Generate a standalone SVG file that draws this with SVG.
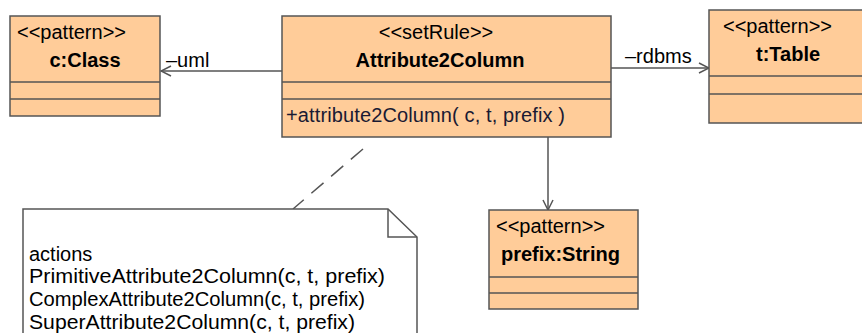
<svg xmlns="http://www.w3.org/2000/svg" width="862" height="333" viewBox="0 0 862 333">
<defs>
<style>
.box{fill:#FFCC99;stroke:#555;stroke-width:1.5}
.sep{stroke:#555;stroke-width:1.5}
.t{font-family:"Liberation Sans",Arial,sans-serif;font-size:20px;fill:#000}
.b{font-weight:bold}
.edge{stroke:#555;stroke-width:1.5;fill:none}
</style>
<marker id="open" viewBox="0 0 12 12" refX="11" refY="6" markerWidth="12" markerHeight="12" markerUnits="userSpaceOnUse" orient="auto">
<path d="M1,1 L11,6 L1,11" fill="none" stroke="#555" stroke-width="1.5"/>
</marker>
</defs>
<rect width="862" height="333" fill="#fff"/>
<g id="connectors">
<line class="edge" x1="282" y1="71" x2="161" y2="71" marker-end="url(#open)"/>
<text class="t" x="166" y="67">–uml</text>
<line class="edge" x1="611" y1="68" x2="709" y2="68" marker-end="url(#open)"/>
<text class="t" x="625" y="63">–rdbms</text>
<line class="edge" x1="548" y1="137" x2="548" y2="210" marker-end="url(#open)"/>
<line class="edge" x1="363" y1="149" x2="293" y2="209" stroke-dasharray="16,10"/>
</g>
<g id="cClass">
<rect class="box" x="10" y="16" width="150" height="100"/>
<line class="sep" x1="10" y1="82" x2="160" y2="82"/>
<line class="sep" x1="10" y1="99" x2="160" y2="99"/>
<text class="t" x="17" y="39">&lt;&lt;pattern&gt;&gt;</text>
<text class="t b" x="85" y="67" text-anchor="middle">c:Class</text>
</g>
<g id="attribute2Column">
<rect class="box" x="282" y="16" width="329" height="121"/>
<line class="sep" x1="282" y1="82" x2="611" y2="82"/>
<line class="sep" x1="282" y1="99" x2="611" y2="99"/>
<text class="t" x="436" y="39" text-anchor="middle">&lt;&lt;setRule&gt;&gt;</text>
<text class="t b" x="440" y="67" text-anchor="middle">Attribute2Column</text>
<text class="t" x="286" y="122" style="fill:#1a1a33" textLength="279" lengthAdjust="spacing">+attribute2Column( c, t, prefix )</text>
</g>
<g id="tTable">
<rect class="box" x="709" y="10" width="160" height="113"/>
<line class="sep" x1="709" y1="76" x2="862" y2="76"/>
<line class="sep" x1="709" y1="94" x2="862" y2="94"/>
<text class="t" x="723" y="33">&lt;&lt;pattern&gt;&gt;</text>
<text class="t b" x="756" y="61">t:Table</text>
</g>
<g id="prefixString">
<rect class="box" x="489" y="210" width="149" height="99"/>
<line class="sep" x1="489" y1="277" x2="638" y2="277"/>
<line class="sep" x1="489" y1="293" x2="638" y2="293"/>
<text class="t" x="496" y="233">&lt;&lt;pattern&gt;&gt;</text>
<text class="t b" x="501" y="261">prefix:String</text>
</g>
<g id="note">
<path d="M23,209 L388,209 L417,237 L417,340 L23,340 Z" fill="#fff" stroke="#555" stroke-width="1.5"/>
<path d="M388,209 L388,237 L417,237" fill="none" stroke="#555" stroke-width="1.5"/>
<text class="t" x="29" y="261">actions</text>
<text class="t" x="29" y="283" textLength="356" lengthAdjust="spacingAndGlyphs">PrimitiveAttribute2Column(c, t, prefix)</text>
<text class="t" x="29" y="306" textLength="336" lengthAdjust="spacingAndGlyphs">ComplexAttribute2Column(c, t, prefix)</text>
<text class="t" x="29" y="329" textLength="326" lengthAdjust="spacingAndGlyphs">SuperAttribute2Column(c, t, prefix)</text>
</g>
</svg>
